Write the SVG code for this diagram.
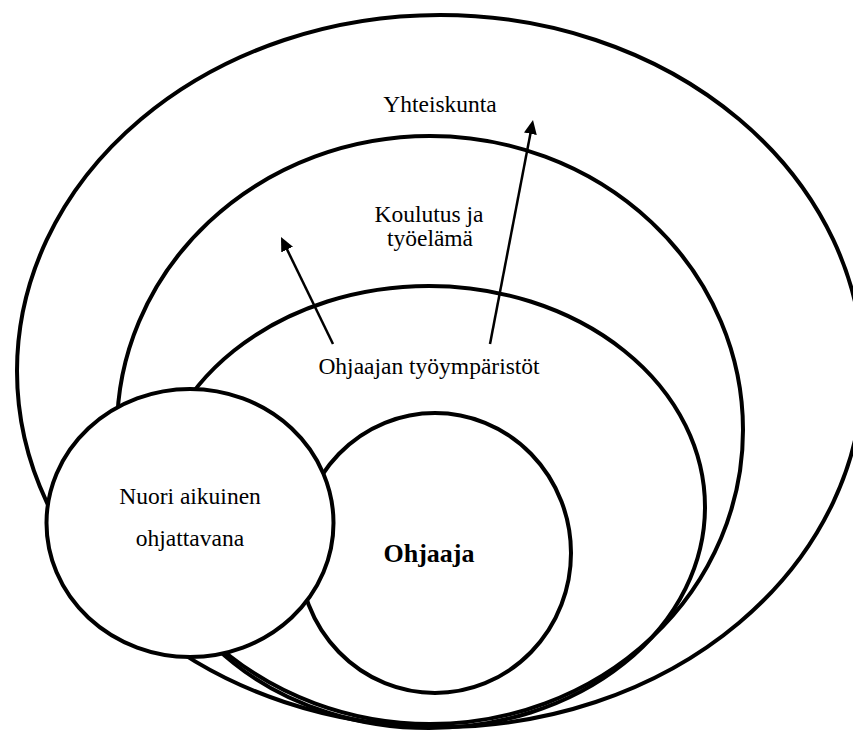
<svg xmlns="http://www.w3.org/2000/svg" width="853" height="731" viewBox="0 0 853 731">
  <style>
    .ring { fill: none; stroke: #000; stroke-width: 4; }
    .disc { fill: #fff; stroke: #000; stroke-width: 4; }
    .lbl { font-family: "Liberation Serif", "Times New Roman", serif; font-size: 23.5px; fill: #000; text-anchor: middle; }
    .bold { font-weight: bold; font-size: 26px; }
    .conn { stroke: #000; stroke-width: 2.5; fill: none; marker-end: url(#arrow); }
  </style>
  <defs>
    <marker id="arrow" markerUnits="userSpaceOnUse" markerWidth="16" markerHeight="14" refX="6" refY="6.5" orient="auto">
      <path d="M0,0 L14,6.5 L0,13 z" fill="#000"/>
    </marker>
  </defs>
  <rect width="853" height="731" fill="#fff"/>

  <g id="yhteiskunta">
    <ellipse class="ring" cx="440" cy="371" rx="423" ry="356"/>
    <text class="lbl" x="440" y="112">Yhteiskunta</text>
  </g>

  <g id="koulutus">
    <ellipse class="ring" cx="430" cy="430" rx="313" ry="294"/>
    <text class="lbl" x="429" y="222">Koulutus ja</text>
    <text class="lbl" x="430" y="246">työelämä</text>
  </g>

  <g id="tyoymparistot">
    <ellipse class="ring" cx="429" cy="507" rx="276" ry="221"/>
    <text class="lbl" x="429" y="374">Ohjaajan työympäristöt</text>
  </g>

  <g id="connectors">
    <line class="conn" x1="333" y1="344" x2="284.5" y2="244.2"/>
    <line class="conn" x1="490" y1="344" x2="531.5" y2="127.9"/>
  </g>

  <g id="ohjaaja">
    <ellipse class="disc" cx="435" cy="553" rx="136" ry="140"/>
    <text class="lbl bold" x="429" y="562">Ohjaaja</text>
  </g>

  <g id="nuori">
    <ellipse class="disc" cx="190" cy="523" rx="143.5" ry="134"/>
    <text class="lbl" x="190" y="504">Nuori aikuinen</text>
    <text class="lbl" x="190" y="546">ohjattavana</text>
  </g>
</svg>
